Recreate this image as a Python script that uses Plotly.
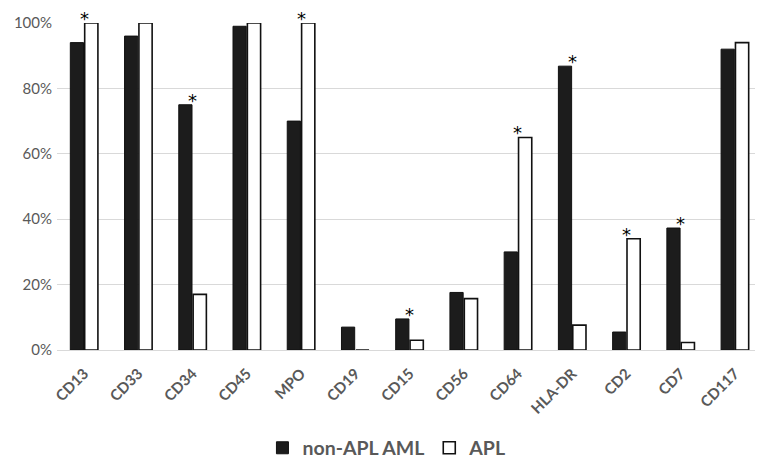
import plotly.graph_objects as go

categories = ["CD13", "CD33", "CD34", "CD45", "MPO", "CD19", "CD15", "CD56",
              "CD64", "HLA-DR", "CD2", "CD7", "CD117"]
non_apl_aml = [0.94, 0.96, 0.75, 0.99, 0.70, 0.07, 0.095, 0.176, 0.30, 0.868, 0.055, 0.373, 0.92]
apl = [1.00, 1.00, 0.17, 1.00, 1.00, 0.0, 0.03, 0.157, 0.65, 0.076, 0.34, 0.023, 0.94]
significant = ["CD13", "CD34", "MPO", "CD15", "CD64", "HLA-DR", "CD2", "CD7"]

fig = go.Figure()
fig.add_trace(go.Bar(
    x=categories, y=non_apl_aml, name="non-APL AML",
    marker=dict(color="#1c1c1c", line=dict(color="#111111", width=1)),
))
fig.add_trace(go.Bar(
    x=categories, y=apl, name="APL",
    marker=dict(color="#ffffff", line=dict(color="#111111", width=1.6)),
))

for c, a, b in zip(categories, non_apl_aml, apl):
    if c in significant:
        fig.add_annotation(x=c, y=max(a, b), text="*", showarrow=False,
                           yanchor="bottom", yshift=-8,
                           font=dict(family="DejaVu Sans", size=18, color="#000000"))

fig.update_layout(
    width=755, height=461,
    margin=dict(l=49, r=1, t=15, b=119),
    plot_bgcolor="white", paper_bgcolor="white",
    barmode="group", bargap=0.47, bargroupgap=0.08,
    font=dict(family="Lato", color="#595959"),
    legend=dict(orientation="h", x=0.468, xanchor="center", y=-0.30, yanchor="middle",
                font=dict(family="Lato", size=19.5, color="#595959", weight="bold"),
                itemwidth=30, traceorder="normal"),
    showlegend=True,
)
fig.update_yaxes(range=[0, 1.0], tickformat=".0%", dtick=0.2, automargin=False,
                 showgrid=True, gridcolor="#d9d9d9", gridwidth=1,
                 zeroline=False, showline=False, ticks="",
                 tickfont=dict(family="Lato", size=15, color="#595959"),
                 ticklabelstandoff=4)
fig.update_xaxes(tickangle=-45, showline=True, linecolor="#d9d9d9", linewidth=1,
                 ticks="", automargin=False, ticklabelstandoff=8,
                 tickfont=dict(family="Lato", size=15, color="#595959", weight="bold"))

fig.write_html("out.html")
